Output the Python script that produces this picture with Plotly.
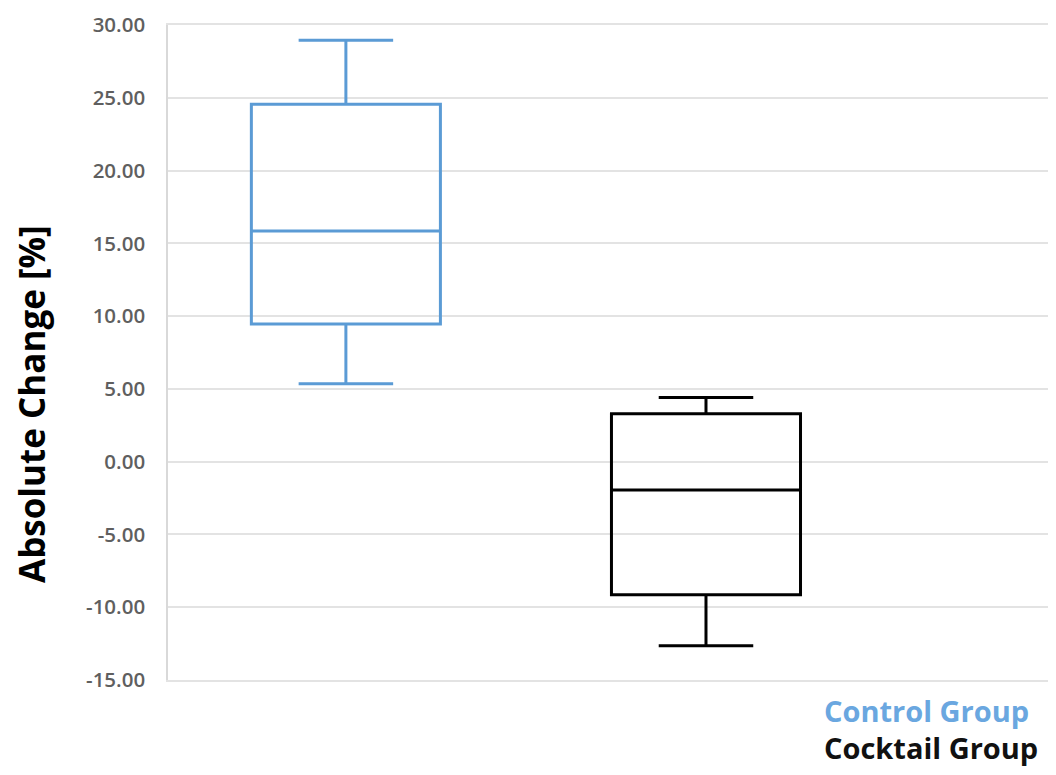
import plotly.graph_objects as go

groups = ["Control Group", "Cocktail Group"]
positions = [0, 1]
lower_whisker = [5.35, -12.65]
q1 = [9.45, -9.15]
median = [15.85, -1.95]
q3 = [24.55, 3.3]
upper_whisker = [28.95, 4.4]
colors = ["#5B9BD5", "#000000"]
label_colors = ["#6AA7E0", "#111111"]
tick_values = [-15, -10, -5, 0, 5, 10, 15, 20, 25, 30]
tick_labels = ["-15.00", "-10.00", "-5.00", "0.00", "5.00", "10.00",
               "15.00", "20.00", "25.00", "30.00"]

# page has an 8px body margin; figure sized to fit the 1056x775 viewport
W, H = 1048, 767
L, T, B = 160, 17, 95
PW = W - L
PH = H - T - B

def px(x):
    return (x - 168) / PW

def py(y):
    return (680 - y) / PH

fig = go.Figure()
for i in range(len(groups)):
    fig.add_trace(go.Box(
        x=[positions[i]],
        q1=[q1[i]], median=[median[i]], q3=[q3[i]],
        lowerfence=[lower_whisker[i]], upperfence=[upper_whisker[i]],
        name=groups[i],
        width=0.525,
        whiskerwidth=0.5,
        line=dict(color=colors[i], width=3),
        fillcolor="rgba(255,255,255,0)",
        boxpoints=False,
        hoverinfo="skip",
    ))

fig.update_layout(
    width=W, height=H,
    margin=dict(l=L, r=0, t=T, b=B, pad=0),
    paper_bgcolor="white", plot_bgcolor="white",
    showlegend=False,
    font=dict(family="Open Sans"),
    xaxis=dict(range=[-0.494, 1.972], showticklabels=False, showgrid=False,
               zeroline=False, showline=True, mirror=True,
               linecolor="#E3E3E3", linewidth=1.5, ticks=""),
    yaxis=dict(range=[-15, 30], tickvals=tick_values, ticktext=tick_labels,
               showgrid=True, gridcolor="#E3E3E3", gridwidth=1.5,
               zeroline=False, showline=True, linecolor="#D9D9D9", linewidth=1.5,
               ticks="", ticklabelstandoff=17,
               tickfont=dict(family="Open Sans", size=20.5, color="#5F5F5F", weight=600)),
)

fig.add_annotation(text="<b>Absolute Change [%]</b>", xref="paper", yref="paper",
                   x=px(31), y=py(404), xanchor="center", yanchor="middle",
                   textangle=-90, showarrow=False,
                   font=dict(family="Open Sans", size=35, color="#000000"))

label_y = [710, 747]
for i in range(len(groups)):
    fig.add_annotation(text="<b>" + groups[i] + "</b>", xref="paper", yref="paper",
                       x=px(822), y=py(label_y[i]), xanchor="left", yanchor="middle",
                       showarrow=False,
                       font=dict(family="Open Sans", size=29, color=label_colors[i]))

fig.write_html("out.html")
